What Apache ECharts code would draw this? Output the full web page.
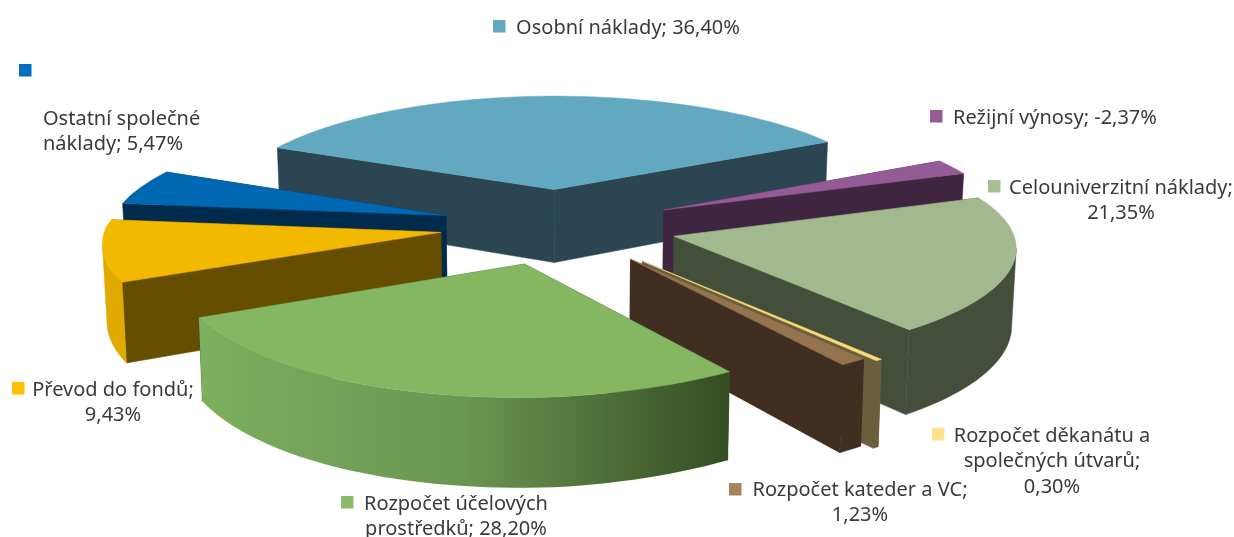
<!DOCTYPE html>
<html lang="cs">
<head>
<meta charset="utf-8">
<style>html,body{margin:0;padding:0;background:#fff}#chart{width:1234px;height:537px}</style>
<script src="https://cdn.jsdelivr.net/npm/echarts@6/dist/echarts.min.js"></script>
</head>
<body>
<div id="chart"></div>
<script>
// Data
const categories = ['Osobní náklady','Režijní výnosy','Celouniverzitní náklady','Rozpočet děkanátu a\nspolečných útvarů','Rozpočet kateder a VC','Rozpočet účelových\nprostředků','Převod do fondů','Ostatní společné\nnáklady'];
const values = [36.40,-2.37,21.35,0.30,1.23,28.20,9.43,5.47];
const separators = ['; ','; ',';\n',';\n',';\n','; ',';\n','; '];

// Styles
const topColors  = ['#63A8C1','#955B96','#A2B98F','#F8DC7C','#94744E','#85B763','#F3B800','#0067B3'];
const cutColors  = ['#2B4552','#3F2540','#434F3B','#6B5E3C','#402F20','#384F27','#664E00','#002B4D'];
const keyColors  = ['#63A8C1','#955B96','#A7BE93','#FFE08F','#A5835C','#8BBB69','#FFC000','#0070C0'];
const paintOrder = [1,2,5,6,7,8,4,3];
const explodeExtra = [0,0,0,15,4,0,0,0];
// Label layout: text anchor x, first-line centre y, align, key x, key y
const labelLayout = [
  [628,28,'center',493,20],[1055,118,'center',930,110],[1121,188,'center',988,180],
  [1052,436,'center',932,428],[860,490,'center',729,483],[456,504,'center',341,496],
  [113,390,'center',12,382],[43,119,'left',19,64]
];
const fontFamily = '"Noto Sans", sans-serif';
const fontSize = 20, lineHeight = 25.5, keySize = 12.5;

// 3D projection of the exploded pie
const cx = 558, cy = 226, R = 338, E = 119, k = 0.319, p = 0.00035, H = 76, startAngle = -64.5;
const total = values.reduce((a, v) => a + Math.abs(v), 0);
const rad = d => d * Math.PI / 180;
let acc = startAngle;
const slices = values.map((v, i) => {
  const from = acc, span = Math.abs(v) / total * 360;
  acc += span;
  return { from, to: acc, mid: from + span / 2, ex: E + explodeExtra[i] };
});
function proj(phi, r, sl, bottom) {
  const X = R * r * Math.sin(rad(phi)) + sl.ex * Math.sin(rad(sl.mid));
  const Z = -R * r * Math.cos(rad(phi)) - sl.ex * Math.cos(rad(sl.mid));
  const s = 1 / (1 - p * Z);
  const zf = Math.max(0, Z), zb = Math.max(0, -Z), xr = Math.max(0, X), xl = Math.max(0, -X);
  const fixX = (X < 0 ? 0.992 : 1) * (1 - 2.7e-7 * xl * zf - 2.5e-7 * xr * zf + 2.5e-7 * xr * zb);
  const fixY = (1 - 2.5e-7 * xr * zf) * (1 + 1e-4 * Math.max(0, zb - 120));
  let x = X * s * fixX, y = k * Z * s * fixY;
  if (bottom) { x *= 0.99; y += H * s; }
  return [cx + x, cy + y];
}
function arc(a, b, sl, bottom) {
  const n = Math.max(2, Math.ceil(Math.abs(b - a) / 2)), pts = [];
  for (let i = 0; i <= n; i++) pts.push(proj(a + (b - a) * i / n, 1, sl, bottom));
  return pts;
}
// Silhouette angle of a slice's rim: where it reaches furthest out sideways
function silhouette(sl, lo, hi, sign) {
  let best = lo, bestX = -Infinity;
  for (let f = lo; f <= hi; f += 0.5) {
    const v = sign * proj(f, 1, sl, false)[0];
    if (v > bestX) { bestX = v; best = f; }
  }
  return best;
}
function renderItem(params, api) {
  const i = params.dataIndex, sl = slices[i];
  const base = paintOrder[i] * 10;
  const poly = (points, fill, z) => ({
    type: 'polygon', shape: { points }, silent: true, z2: base + z,
    style: { fill, stroke: typeof fill === 'string' ? fill : null, lineWidth: 0.5 }
  });
  const cut = phi => poly([proj(phi, 0, sl, false), proj(phi, 1, sl, false), proj(phi, 1, sl, true), proj(phi, 0, sl, true)], cutColors[i], 1);
  const kids = [];
  // back cut first, then front cut
  const cuts = [sl.from, sl.to].sort((a, b) => Math.cos(rad(b)) - Math.cos(rad(a)));
  kids.push(cut(cuts[0]));
  const c2 = cut(cuts[1]); c2.z2 = base + 2; kids.push(c2);
  // outer wall, from silhouette to silhouette
  const a = sl.from < 110 && sl.to > 70 ? Math.max(sl.from, silhouette(sl, Math.max(sl.from, 70), Math.min(sl.to, 110), 1)) : Math.max(sl.from, 90);
  const b = sl.to > 250 && sl.from < 290 ? Math.min(sl.to, silhouette(sl, Math.max(sl.from, 250), Math.min(sl.to, 290), -1)) : Math.min(sl.to, 270);
  if (b > a) {
    let fill = cutColors[i];
    if (i === 5) fill = new echarts.graphic.LinearGradient(0, 0, 1, 0, [
      { offset: 0, color: '#7CAF5E' }, { offset: 0.5, color: '#6B9552' }, { offset: 1, color: '#344D23' }
    ]);
    if (i === 6) fill = '#E0AA00';
    const top = arc(a, b, sl, false), bot = arc(a, b, sl, true).reverse();
    kids.push(poly(top.concat(bot), fill, 3));
  }
  // top face
  kids.push(poly([proj(0, 0, sl, false)].concat(arc(sl.from, sl.to, sl, false)), topColors[i], 4));
  return { type: 'group', children: kids };
}

const pct = v => v.toFixed(2).replace('.', ',') + '%';
const graphics = [];
categories.forEach((name, i) => {
  const [x, y, align, kx, ky] = labelLayout[i];
  graphics.push({
    type: 'text', x, y: y - lineHeight / 2,
    style: { text: name + separators[i] + pct(values[i]), align, verticalAlign: 'top',
      fontFamily, fontSize, lineHeight, fill: '#3A3A3A' }
  });
  graphics.push({
    type: 'rect', x: kx, y: ky, shape: { width: keySize, height: keySize },
    style: { fill: keyColors[i] }
  });
});

const chart = echarts.init(document.getElementById('chart'), null, { renderer: 'canvas' });
chart.setOption({
  animation: false,
  backgroundColor: '#fff',
  graphic: graphics,
  series: [{
    type: 'custom', coordinateSystem: 'none', renderItem,
    data: values.map((v, i) => ({ name: categories[i], value: v }))
  }]
});
</script>
</body>
</html>
